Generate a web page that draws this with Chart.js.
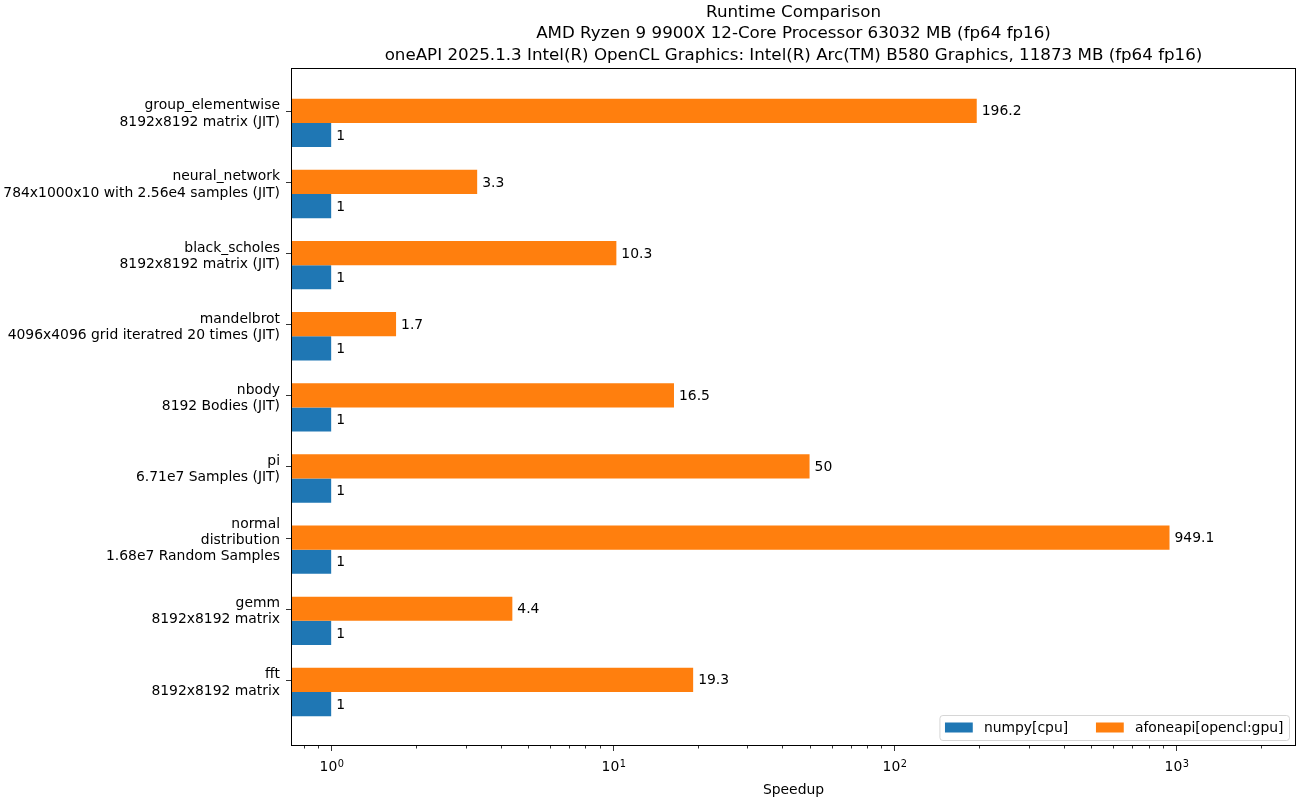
<!DOCTYPE html>
<html>
<head>
<meta charset="utf-8">
<script src="https://cdn.jsdelivr.net/npm/chart.js@4"></script>
<style>
  html, body { margin: 0; padding: 0; background: #fff; }
  #wrap { width: 1300px; height: 800px; }
</style>
</head>
<body>
<div id="wrap"><canvas id="speedChart"></canvas></div>
<script>
const benchmarks = [
  ['group_elementwise', '8192x8192 matrix (JIT)'],
  ['neural_network', '784x1000x10 with 2.56e4 samples (JIT)'],
  ['black_scholes', '8192x8192 matrix (JIT)'],
  ['mandelbrot', '4096x4096 grid iteratred 20 times (JIT)'],
  ['nbody', '8192 Bodies (JIT)'],
  ['pi', '6.71e7 Samples (JIT)'],
  ['normal', 'distribution', '1.68e7 Random Samples'],
  ['gemm', '8192x8192 matrix'],
  ['fft', '8192x8192 matrix']
];
const numpyCpu = [1, 1, 1, 1, 1, 1, 1, 1, 1];
const afoneapiGpu = [196.2, 3.3, 10.3, 1.7, 16.5, 50, 949.1, 4.4, 19.3];
const seriesNames = ['numpy[cpu]', 'afoneapi[opencl:gpu]'];
const titleLines = [
  'Runtime Comparison',
  'AMD Ryzen 9 9900X 12-Core Processor 63032 MB (fp64 fp16)',
  'oneAPI 2025.1.3 Intel(R) OpenCL Graphics: Intel(R) Arc(TM) B580 Graphics, 11873 MB (fp64 fp16)'
];
// major x ticks: value -> exponent shown as 10^n
const xMajorExp = { 1: '0', 10: '1', 100: '2', 1000: '3' };

const FONT = '"DejaVu Sans", sans-serif';
const BLUE = '#1f77b4', ORANGE = '#ff7f0e';
const X_MIN = 0.72, X_MAX = 2670;
const GROUP_FRAC = 0.68;            // share of a category taken by both bars
const TICK_SHIFT = GROUP_FRAC / 4;  // y tick sits at the centre of the upper (orange) bar

const toPoints = vals => vals.map((v, i) => ({ x: v, y: i }));

// value labels next to bar ends, axes frame, tick marks, 10^n labels and legend
const decorations = {
  id: 'decorations',
  afterDatasetsDraw(chart) {
    const ctx = chart.ctx;
    ctx.save();
    ctx.font = '13.9px ' + FONT;
    ctx.fillStyle = '#000';
    ctx.textBaseline = 'middle';
    ctx.textAlign = 'left';
    chart.data.datasets.forEach((ds, di) => {
      chart.getDatasetMeta(di).data.forEach((bar, i) => {
        ctx.fillText(String(ds.data[i].x), bar.x + 5, bar.y + 1);
      });
    });
    ctx.restore();
  },
  afterDraw(chart) {
    const ctx = chart.ctx;
    const a = chart.chartArea;
    ctx.save();
    ctx.strokeStyle = '#000';
    ctx.lineWidth = 1;
    ctx.strokeRect(Math.round(a.left) + 0.5, Math.round(a.top) + 0.5,
                   Math.round(a.right - a.left) - 1, Math.round(a.bottom - a.top) - 1);
    // x ticks + labels
    const xs = chart.scales.x;
    ctx.lineWidth = 0.8;
    xs.ticks.forEach((t, i) => {
      const px = Math.round(xs.getPixelForTick(i)) + 0.5;
      const exp = xMajorExp[t.value];
      ctx.beginPath();
      ctx.moveTo(px, a.bottom);
      ctx.lineTo(px, a.bottom + (exp ? 5 : 2.5));
      ctx.stroke();
      if (exp) {
        ctx.fillStyle = '#000';
        ctx.textBaseline = 'alphabetic';
        ctx.font = '13.9px ' + FONT;
        const w1 = ctx.measureText('10').width;
        ctx.font = '9.8px ' + FONT;
        const w2 = ctx.measureText(exp).width;
        const x0 = px - (w1 + w2) / 2;
        ctx.font = '13.9px ' + FONT;
        ctx.textAlign = 'left';
        ctx.fillText('10', x0, a.bottom + 25);
        ctx.font = '9.8px ' + FONT;
        ctx.fillText(exp, x0 + w1 + 0.5, a.bottom + 21);
      }
    });
    // y ticks
    const ys = chart.scales.y;
    ys.ticks.forEach((t, i) => {
      const py = Math.round(ys.getPixelForTick(i)) + 0.5;
      ctx.beginPath();
      ctx.moveTo(a.left, py);
      ctx.lineTo(a.left - 5, py);
      ctx.stroke();
    });
    // legend (inside axes, lower right)
    ctx.font = '13.9px ' + FONT;
    const fs = 13.9;
    const handle = 2 * fs, gapText = 0.8 * fs, colGap = 2 * fs, pad = 0.4 * fs;
    const colors = [BLUE, ORANGE];
    const widths = seriesNames.map(n => ctx.measureText(n).width);
    const boxW = pad * 2 + handle * 2 + gapText * 2 + widths[0] + widths[1] + colGap;
    const boxH = 25;
    const bx = a.right - 7 - boxW, by = a.bottom - 6 - boxH;
    ctx.beginPath();
    ctx.roundRect(bx + 0.5, by + 0.5, boxW, boxH, 3);
    ctx.fillStyle = 'rgba(255,255,255,0.8)';
    ctx.fill();
    ctx.strokeStyle = '#cccccc';
    ctx.stroke();
    let cx = bx + pad;
    const cy = by + boxH / 2;
    seriesNames.forEach((n, i) => {
      ctx.fillStyle = colors[i];
      ctx.fillRect(cx, cy - 5, handle, 10);
      ctx.fillStyle = '#000';
      ctx.textAlign = 'left';
      ctx.textBaseline = 'middle';
      ctx.fillText(n, cx + handle + gapText, cy + 1);
      cx += handle + gapText + widths[i] + colGap;
    });
    ctx.restore();
  }
};

new Chart(document.getElementById('speedChart'), {
  type: 'bar',
  data: {
    datasets: [
      { label: seriesNames[1], data: toPoints(afoneapiGpu), backgroundColor: ORANGE },
      { label: seriesNames[0], data: toPoints(numpyCpu), backgroundColor: BLUE }
    ]
  },
  options: {
    indexAxis: 'y',
    responsive: true,
    maintainAspectRatio: false,
    animation: false,
    categoryPercentage: GROUP_FRAC,
    barPercentage: 1.0,
    layout: { padding: { left: 0, right: 4, top: 0, bottom: 0 } },
    plugins: {
      legend: { display: false },
      tooltip: { enabled: false },
      title: {
        display: true,
        text: titleLines,
        fullSize: false,
        color: '#000',
        font: { family: FONT, size: 16.7, weight: 'normal', lineHeight: 1.28 },
        padding: { top: 2, bottom: 2 }
      }
    },
    scales: {
      x: {
        type: 'logarithmic',
        bounds: 'data',
        min: X_MIN,
        max: X_MAX,
        afterBuildTicks(scale) {
          const t = [];
          for (let k = -1; k <= 3; k++) {
            for (let m = 1; m <= 9; m++) {
              const v = +(m * Math.pow(10, k)).toPrecision(3);
              if (v >= X_MIN && v <= X_MAX) t.push({ value: v, major: !!xMajorExp[v] });
            }
          }
          scale.ticks = t;
        },
        afterFit(scale) { scale.height = 54; },
        grid: { display: false, drawTicks: false },
        border: { display: false },
        ticks: {
          autoSkip: false,
          maxRotation: 0,
          padding: 12,
          color: '#000',
          font: { family: FONT, size: 13.9 },
          callback: () => ''
        },
        title: {
          display: true,
          text: 'Speedup',
          color: '#000',
          font: { family: FONT, size: 13.9 },
          padding: { top: 0, bottom: 1 }
        }
      },
      y: {
        type: 'linear',
        reverse: true,
        offset: false,
        bounds: 'data',
        min: -0.77,
        max: 8.76,
        afterBuildTicks(scale) {
          scale.ticks = benchmarks.map((_, i) => ({ value: i - TICK_SHIFT }));
        },
        afterFit(scale) { scale.width = 291; },
        grid: { display: false, drawTicks: false },
        border: { display: false },
        ticks: {
          autoSkip: false,
          padding: 11,
          labelOffset: 3,
          color: '#000',
          font: { family: FONT, size: 13.9, lineHeight: 1.17 },
          callback: (v, i) => benchmarks[i]
        }
      }
    }
  },
  plugins: [decorations]
});
</script>
</body>
</html>
